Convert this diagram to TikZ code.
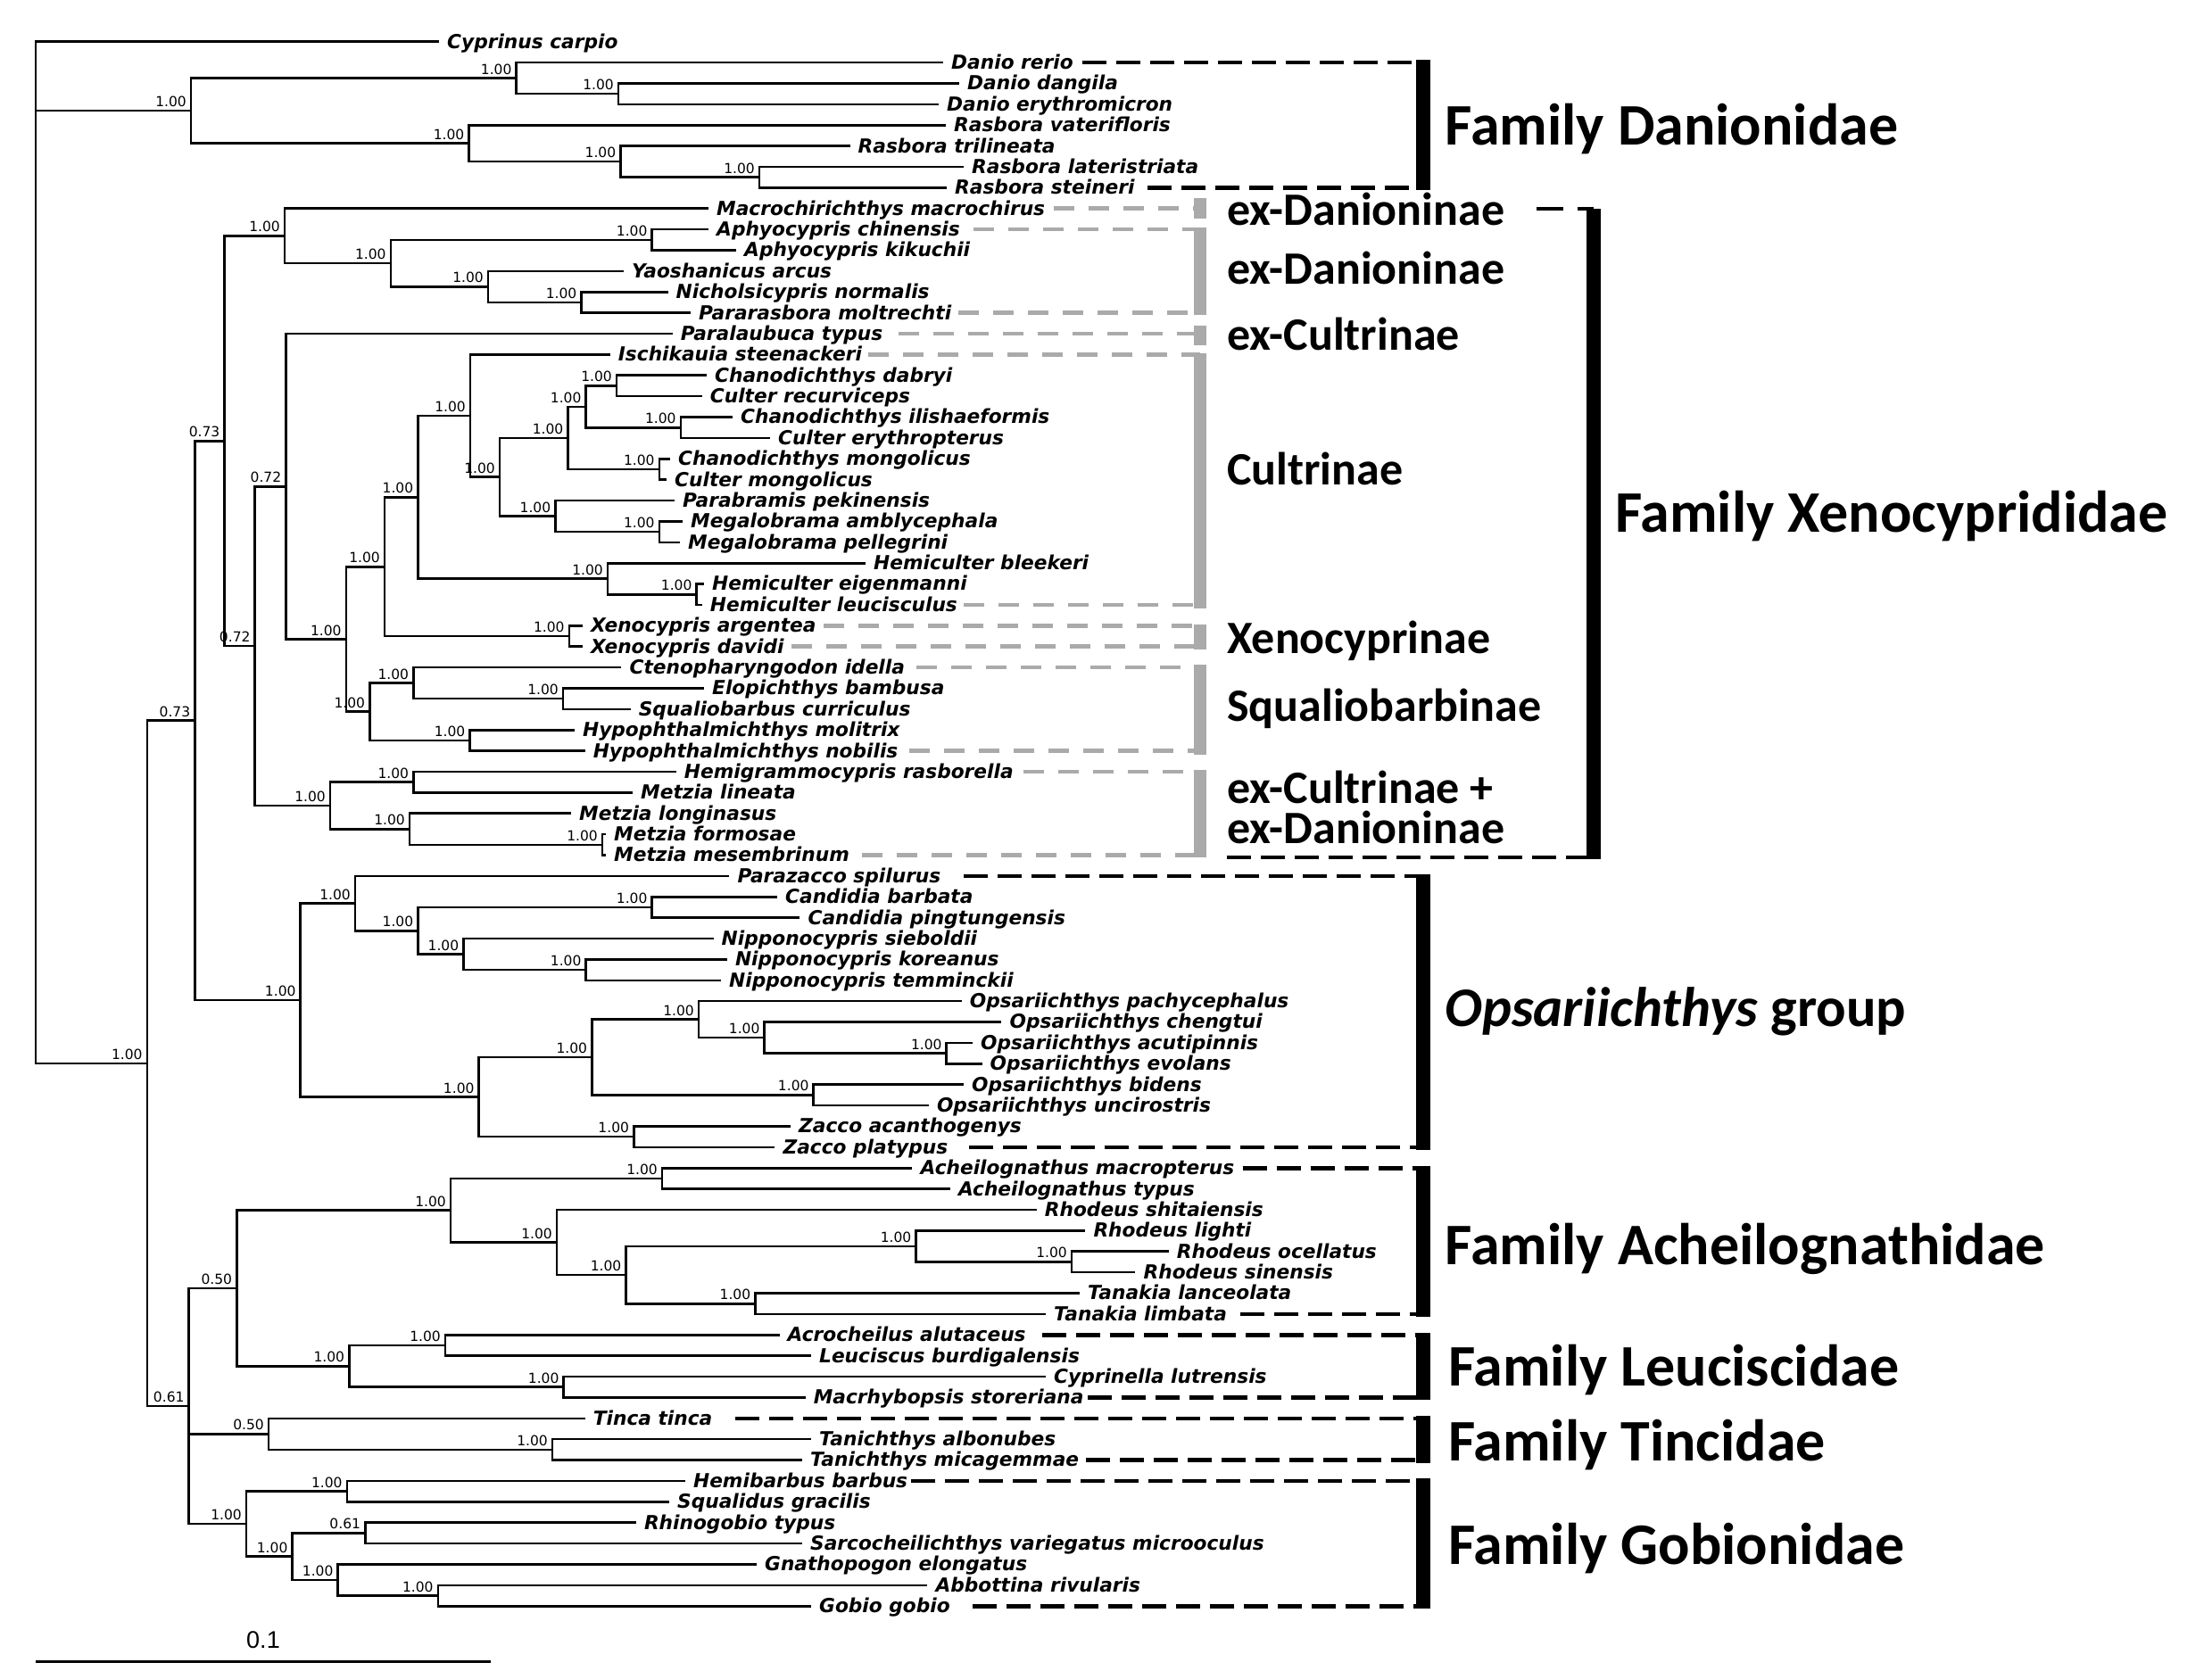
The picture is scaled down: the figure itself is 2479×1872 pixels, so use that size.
\documentclass[tikz,border=0pt]{standalone}
\usepackage{fontspec}
\setmainfont{DejaVu Sans}
\newfontfamily\carl{Carlito}
\newfontfamily\libs{Liberation Sans}
\usetikzlibrary{calc}
\definecolor{gb}{RGB}{170,170,170}
\newcommand\LY[1]{46.7+23.38*(#1)}
\newcommand\tleaf[3]{\coordinate (c#1) at (#2,{\LY{#1}}); \node[sp] (l#1) at (c#1) {#3};}
\newcommand\innode[3]{\coordinate (#1) at (#2,{\LY{#3}});}
\newcommand\bsv[2]{\node[bs] (b#1) at ([xshift=-5pt,yshift=4.5pt]#1) {#2};}
\begin{document}
\begin{tikzpicture}[x=1pt,y=-1pt,
 br/.style={line width=2.6pt},
 sp/.style={anchor=base west, inner sep=0pt, xshift=9pt, yshift=-7.4pt, font=\fontsize{21.7}{24}\selectfont\bfseries\itshape},
 bs/.style={anchor=base east, inner sep=0pt, font=\fontsize{15.5}{17}\selectfont},
 kdash/.style={line width=4.6pt, dash pattern=on 27pt off 11pt},
 gdash/.style={gb, line width=4.5pt, dash pattern=on 23pt off 16pt},
 kbar/.style={line width=16.5pt},
 gbar/.style={gb, line width=14pt},
 sub/.style={anchor=base west, inner sep=0pt, font=\carl\fontsize{52}{56}\selectfont\bfseries},
 fam/.style={anchor=base west, inner sep=0pt, font=\carl\fontsize{66}{70}\selectfont\bfseries}]
\useasboundingbox[fill=white] (0,0) rectangle (2479,1872);

% ---------- leaves ----------
\tleaf{0}{492}{Cyprinus carpio}
\tleaf{1}{1057}{Danio rerio}
\tleaf{2}{1075}{Danio dangila}
\tleaf{3}{1052}{Danio erythromicron}
\tleaf{4}{1060}{Rasbora vaterifloris}
\tleaf{5}{952.5}{Rasbora trilineata}
\tleaf{6}{1080}{Rasbora lateristriata}
\tleaf{7}{1061}{Rasbora steineri}
\tleaf{8}{794}{Macrochirichthys macrochirus}
\tleaf{9}{794}{Aphyocypris chinensis}
\tleaf{10}{825}{Aphyocypris kikuchii}
\tleaf{11}{699}{Yaoshanicus arcus}
\tleaf{12}{748.5}{Nicholsicypris normalis}
\tleaf{13}{774}{Pararasbora moltrechti}
\tleaf{14}{753.6}{Paralaubuca typus}
\tleaf{15}{683.7}{Ischikauia steenackeri}
\tleaf{16}{792}{Chanodichthys dabryi}
\tleaf{17}{786.7}{Culter recurviceps}
\tleaf{18}{821}{Chanodichthys ilishaeformis}
\tleaf{19}{863}{Culter erythropterus}
\tleaf{20}{751}{Chanodichthys mongolicus}
\tleaf{21}{747}{Culter mongolicus}
\tleaf{22}{756}{Parabramis pekinensis}
\tleaf{23}{765}{Megalobrama amblycephala}
\tleaf{24}{762}{Megalobrama pellegrini}
\tleaf{25}{970}{Hemiculter bleekeri}
\tleaf{26}{789}{Hemiculter eigenmanni}
\tleaf{27}{786.7}{Hemiculter leucisculus}
\tleaf{28}{653}{Xenocypris argentea}
\tleaf{29}{653}{Xenocypris davidi}
\tleaf{30}{696.4}{Ctenopharyngodon idella}
\tleaf{31}{789}{Elopichthys bambusa}
\tleaf{32}{706.6}{Squaliobarbus curriculus}
\tleaf{33}{643.9}{Hypophthalmichthys molitrix}
\tleaf{34}{655.6}{Hypophthalmichthys nobilis}
\tleaf{35}{757.7}{Hemigrammocypris rasborella}
\tleaf{36}{709}{Metzia lineata}
\tleaf{37}{640}{Metzia longinasus}
\tleaf{38}{679}{Metzia formosae}
\tleaf{39}{679}{Metzia mesembrinum}
\tleaf{40}{817.3}{Parazacco spilurus}
\tleaf{41}{871}{Candidia barbata}
\tleaf{42}{896.4}{Candidia pingtungensis}
\tleaf{43}{799.5}{Nipponocypris sieboldii}
\tleaf{44}{814.8}{Nipponocypris koreanus}
\tleaf{45}{808}{Nipponocypris temminckii}
\tleaf{46}{1077.6}{Opsariichthys pachycephalus}
\tleaf{47}{1122.4}{Opsariichthys chengtui}
\tleaf{48}{1090}{Opsariichthys acutipinnis}
\tleaf{49}{1100.5}{Opsariichthys evolans}
\tleaf{50}{1080}{Opsariichthys bidens}
\tleaf{51}{1040.8}{Opsariichthys uncirostris}
\tleaf{52}{886}{Zacco acanthogenys}
\tleaf{53}{868.4}{Zacco platypus}
\tleaf{54}{1022.4}{Acheilognathus macropterus}
\tleaf{55}{1064.8}{Acheilognathus typus}
\tleaf{56}{1161.7}{Rhodeus shitaiensis}
\tleaf{57}{1216.3}{Rhodeus lighti}
\tleaf{58}{1309.7}{Rhodeus ocellatus}
\tleaf{59}{1272.4}{Rhodeus sinensis}
\tleaf{60}{1210}{Tanakia lanceolata}
\tleaf{61}{1172}{Tanakia limbata}
\tleaf{62}{873.5}{Acrocheilus alutaceus}
\tleaf{63}{909}{Leuciscus burdigalensis}
\tleaf{64}{1172}{Cyprinella lutrensis}
\tleaf{65}{902.6}{Macrhybopsis storeriana}
\tleaf{66}{655.6}{Tinca tinca}
\tleaf{67}{909}{Tanichthys albonubes}
\tleaf{68}{899}{Tanichthys micagemmae}
\tleaf{69}{767.9}{Hemibarbus barbus}
\tleaf{70}{750}{Squalidus gracilis}
\tleaf{71}{712.8}{Rhinogobio typus}
\tleaf{72}{899}{Sarcocheilichthys variegatus microoculus}
\tleaf{73}{848}{Gnathopogon elongatus}
\tleaf{74}{1039.3}{Abbottina rivularis}
\tleaf{75}{909}{Gobio gobio}

% ---------- internal nodes ----------
\innode{R}{40}{24.49}
\innode{D0}{214}{3.3125}
\innode{Dd}{578.6}{1.75}
\innode{Dd2}{693}{2.5}
\innode{Ra}{525.5}{4.875}
\innode{Ra2}{695.4}{5.75}
\innode{Ra3}{851}{6.5}
\innode{B}{164.8}{48.9812}
\innode{C1}{218.4}{32.5483}
\innode{C2}{251.5}{19.14355}
\innode{E1}{319}{9.3125}
\innode{E2}{437.8}{10.625}
\innode{Ap}{730.6}{9.5}
\innode{E3}{547}{11.75}
\innode{E4}{651.5}{12.5}
\innode{C3}{285.7}{28.97461}
\innode{C4}{320.4}{21.32422}
\innode{C5}{387.8}{28.64844}
\innode{C6}{431}{25.17188}
\innode{C7}{468.4}{21.84375}
\innode{Nisch}{527}{17.9375}
\innode{Ncult}{560}{20.875}
\innode{Na}{636.5}{19}
\innode{Nb}{656.6}{17.5}
\innode{Ndab}{691}{16.5}
\innode{Nili}{762.8}{18.5}
\innode{Nmon}{738.8}{20.5}
\innode{Npara}{622.4}{22.75}
\innode{Nmeg}{738.8}{23.5}
\innode{Hem}{681}{25.75}
\innode{Hem2}{780.6}{26.5}
\innode{Xen}{637.8}{28.5}
\innode{SQ}{414.3}{32.125}
\innode{SQ1}{463.3}{30.75}
\innode{Elo}{631}{31.5}
\innode{Hyp}{526.5}{33.5}
\innode{M0}{370}{36.625}
\innode{M1}{463.3}{35.5}
\innode{M2}{459}{37.75}
\innode{M3}{675}{38.5}
\innode{O0}{336.7}{45.953125}
\innode{O1}{398}{41.3125}
\innode{O2}{468.4}{42.625}
\innode{Cand}{730.6}{41.5}
\innode{O3}{519.4}{43.75}
\innode{O4}{656.6}{44.5}
\innode{O5}{536.7}{50.59375}
\innode{O6}{663.3}{48.6875}
\innode{O7}{783}{46.875}
\innode{O8}{856.6}{47.75}
\innode{O9}{1060.7}{48.5}
\innode{Obid}{911.7}{50.5}
\innode{Zac}{710.2}{52.5}
\innode{G}{211.7}{65.4140625}
\innode{P0}{265.3}{59.765625}
\innode{A1}{505}{56.03125}
\innode{Ach}{742}{54.5}
\innode{A2}{624}{57.5625}
\innode{A3}{701.5}{59.125}
\innode{A4}{1026.5}{57.75}
\innode{A5}{1201}{58.5}
\innode{A6}{846.4}{60.5}
\innode{L0}{391.3}{63.5}
\innode{L1}{499}{62.5}
\innode{L2}{631.6}{64.5}
\innode{T0}{301}{66.75}
\innode{T1}{619}{67.5}
\innode{Gob}{276}{71.0625}
\innode{Gb1}{388.8}{69.5}
\innode{Gb2}{327.6}{72.625}
\innode{Gb3}{409.2}{71.5}
\innode{Gb4}{378.6}{73.75}
\innode{Gb5}{490.8}{74.5}

% ---------- branches ----------
\draw[br] (R) |- (c0) (R) |- (D0) (R) |- (B);
\draw[br] (D0) |- (Dd) (D0) |- (Ra);
\draw[br] (Dd) |- (c1) (Dd) |- (Dd2);
\draw[br] (Dd2) |- (c2) (Dd2) |- (c3);
\draw[br] (Ra) |- (c4) (Ra) |- (Ra2);
\draw[br] (Ra2) |- (c5) (Ra2) |- (Ra3);
\draw[br] (Ra3) |- (c6) (Ra3) |- (c7);
\draw[br] (B) |- (C1) (B) |- (G);
\draw[br] (C1) |- (C2) (C1) |- (O0);
\draw[br] (C2) |- (E1) (C2) |- (C3);
\draw[br] (E1) |- (c8) (E1) |- (E2);
\draw[br] (E2) |- (Ap) (E2) |- (E3);
\draw[br] (Ap) |- (c9) (Ap) |- (c10);
\draw[br] (E3) |- (c11) (E3) |- (E4);
\draw[br] (E4) |- (c12) (E4) |- (c13);
\draw[br] (C3) |- (C4) (C3) |- (M0);
\draw[br] (C4) |- (c14) (C4) |- (C5);
\draw[br] (C5) |- (C6) (C5) |- (SQ);
\draw[br] (C6) |- (C7) (C6) |- (Xen);
\draw[br] (C7) |- (Nisch) (C7) |- (Hem);
\draw[br] (Nisch) |- (c15) (Nisch) |- (Ncult);
\draw[br] (Ncult) |- (Na) (Ncult) |- (Npara);
\draw[br] (Na) |- (Nb) (Na) |- (Nmon);
\draw[br] (Nb) |- (Ndab) (Nb) |- (Nili);
\draw[br] (Ndab) |- (c16) (Ndab) |- (c17);
\draw[br] (Nili) |- (c18) (Nili) |- (c19);
\draw[br] (Nmon) |- (c20) (Nmon) |- (c21);
\draw[br] (Npara) |- (c22) (Npara) |- (Nmeg);
\draw[br] (Nmeg) |- (c23) (Nmeg) |- (c24);
\draw[br] (Hem) |- (c25) (Hem) |- (Hem2);
\draw[br] (Hem2) |- (c26) (Hem2) |- (c27);
\draw[br] (Xen) |- (c28) (Xen) |- (c29);
\draw[br] (SQ) |- (SQ1) (SQ) |- (Hyp);
\draw[br] (SQ1) |- (c30) (SQ1) |- (Elo);
\draw[br] (Elo) |- (c31) (Elo) |- (c32);
\draw[br] (Hyp) |- (c33) (Hyp) |- (c34);
\draw[br] (M0) |- (M1) (M0) |- (M2);
\draw[br] (M1) |- (c35) (M1) |- (c36);
\draw[br] (M2) |- (c37) (M2) |- (M3);
\draw[br] (M3) |- (c38) (M3) |- (c39);
\draw[br] (O0) |- (O1) (O0) |- (O5);
\draw[br] (O1) |- (c40) (O1) |- (O2);
\draw[br] (O2) |- (Cand) (O2) |- (O3);
\draw[br] (Cand) |- (c41) (Cand) |- (c42);
\draw[br] (O3) |- (c43) (O3) |- (O4);
\draw[br] (O4) |- (c44) (O4) |- (c45);
\draw[br] (O5) |- (O6) (O5) |- (Zac);
\draw[br] (O6) |- (O7) (O6) |- (Obid);
\draw[br] (O7) |- (c46) (O7) |- (O8);
\draw[br] (O8) |- (c47) (O8) |- (O9);
\draw[br] (O9) |- (c48) (O9) |- (c49);
\draw[br] (Obid) |- (c50) (Obid) |- (c51);
\draw[br] (Zac) |- (c52) (Zac) |- (c53);
\draw[br] (G) |- (P0) (G) |- (T0) (G) |- (Gob);
\draw[br] (P0) |- (A1) (P0) |- (L0);
\draw[br] (A1) |- (Ach) (A1) |- (A2);
\draw[br] (Ach) |- (c54) (Ach) |- (c55);
\draw[br] (A2) |- (c56) (A2) |- (A3);
\draw[br] (A3) |- (A4) (A3) |- (A6);
\draw[br] (A4) |- (c57) (A4) |- (A5);
\draw[br] (A5) |- (c58) (A5) |- (c59);
\draw[br] (A6) |- (c60) (A6) |- (c61);
\draw[br] (L0) |- (L1) (L0) |- (L2);
\draw[br] (L1) |- (c62) (L1) |- (c63);
\draw[br] (L2) |- (c64) (L2) |- (c65);
\draw[br] (T0) |- (c66) (T0) |- (T1);
\draw[br] (T1) |- (c67) (T1) |- (c68);
\draw[br] (Gob) |- (Gb1) (Gob) |- (Gb2);
\draw[br] (Gb1) |- (c69) (Gb1) |- (c70);
\draw[br] (Gb2) |- (Gb3) (Gb2) |- (Gb4);
\draw[br] (Gb3) |- (c71) (Gb3) |- (c72);
\draw[br] (Gb4) |- (c73) (Gb4) |- (Gb5);
\draw[br] (Gb5) |- (c74) (Gb5) |- (c75);

% ---------- support values ----------
\bsv{D0}{1.00}\bsv{Dd}{1.00}\bsv{Dd2}{1.00}\bsv{Ra}{1.00}\bsv{Ra2}{1.00}\bsv{Ra3}{1.00}
\bsv{B}{1.00}\bsv{C1}{0.73}\bsv{C2}{0.73}\bsv{E1}{1.00}\bsv{E2}{1.00}\bsv{Ap}{1.00}
\bsv{E3}{1.00}\bsv{E4}{1.00}\bsv{C3}{0.72}\bsv{C4}{0.72}\bsv{C5}{1.00}\bsv{C6}{1.00}
\bsv{C7}{1.00}\bsv{Nisch}{1.00}\bsv{Ncult}{1.00}\bsv{Na}{1.00}\bsv{Nb}{1.00}\bsv{Ndab}{1.00}
\bsv{Nili}{1.00}\bsv{Nmon}{1.00}\bsv{Npara}{1.00}\bsv{Nmeg}{1.00}\bsv{Hem}{1.00}\bsv{Hem2}{1.00}
\bsv{Xen}{1.00}\bsv{SQ}{1.00}\bsv{SQ1}{1.00}\bsv{Elo}{1.00}\bsv{Hyp}{1.00}
\bsv{M0}{1.00}\bsv{M1}{1.00}\bsv{M2}{1.00}\bsv{M3}{1.00}
\bsv{O0}{1.00}\bsv{O1}{1.00}\bsv{O2}{1.00}\bsv{Cand}{1.00}\bsv{O3}{1.00}\bsv{O4}{1.00}
\bsv{O5}{1.00}\bsv{O6}{1.00}\bsv{O7}{1.00}\bsv{O8}{1.00}\bsv{O9}{1.00}\bsv{Obid}{1.00}\bsv{Zac}{1.00}
\bsv{G}{0.61}\bsv{P0}{0.50}\bsv{A1}{1.00}\bsv{Ach}{1.00}\bsv{A2}{1.00}\bsv{A3}{1.00}
\bsv{A4}{1.00}\bsv{A5}{1.00}\bsv{A6}{1.00}\bsv{L0}{1.00}\bsv{L1}{1.00}\bsv{L2}{1.00}
\bsv{T0}{0.50}\bsv{T1}{1.00}\bsv{Gob}{1.00}\bsv{Gb1}{1.00}\bsv{Gb2}{1.00}\bsv{Gb3}{0.61}
\bsv{Gb4}{1.00}\bsv{Gb5}{1.00}

% ---------- subgroup labels ----------
\node[sub] (s1) at (1375,252) {ex-Danioninae};
\node[sub] (s2) at (1375,318.9) {ex-Danioninae};
\node[sub] (s3) at (1375,392.2) {ex-Cultrinae};
\node[sub] (s4) at (1375,543.4) {Cultrinae};
\node[sub] (s5) at (1375,732.1) {Xenocyprinae};
\node[sub] (s6) at (1375,808.7) {Squaliobarbinae};
\node[sub] (s7a) at (1375,900.5) {ex-Cultrinae +};
\node[sub] (s7b) at (1375,945.2) {ex-Danioninae};

% ---------- family labels ----------
\node[fam] (f1) at (1619.5,162.6) {Family Danionidae};
\node[fam] (f2) at (1809.8,596.3) {Family Xenocyprididae};
\node[fam, font=\carl\fontsize{62.5}{68}\selectfont\bfseries] (f3) at (1619.5,1150) {\itshape Opsariichthys\upshape{} group};
\node[fam] (f4) at (1619.5,1417.6) {Family Acheilognathidae};
\node[fam] (f5) at (1623,1553) {Family Leuciscidae};
\node[fam] (f6) at (1623,1637) {Family Tincidae};
\node[fam] (f7) at (1623,1753) {Family Gobionidae};

% ---------- bar end points ----------
\coordinate (gb1t) at (1345,222); \coordinate (gb1b) at (1345,245);
\coordinate (gb2t) at (1345,255); \coordinate (gb2b) at (1345,353);
\coordinate (gb3t) at (1345,365); \coordinate (gb3b) at (1345,387);
\coordinate (gb4t) at (1345,396); \coordinate (gb4b) at (1345,682);
\coordinate (gb5t) at (1345,699.5); \coordinate (gb5b) at (1345,728);
\coordinate (gb6t) at (1345,745); \coordinate (gb6b) at (1345,846);
\coordinate (gb7t) at (1345,863); \coordinate (gb7b) at (1345,961);
\coordinate (kb1t) at (1595,67); \coordinate (kb1b) at (1595,213);
\coordinate (kb2t) at (1786,234); \coordinate (kb2b) at (1786,963);
\coordinate (kb3t) at (1595,979.5); \coordinate (kb3b) at (1595,1289);
\coordinate (kb4t) at (1595,1307); \coordinate (kb4b) at (1595,1476);
\coordinate (kb5t) at (1595,1494); \coordinate (kb5b) at (1595,1569);
\coordinate (kb6t) at (1595,1587); \coordinate (kb6b) at (1595,1640);
\coordinate (kb7t) at (1595,1657); \coordinate (kb7b) at (1595,1803);
\coordinate (xb) at (1786,961);

% ---------- gray dashed connectors ----------
\draw[gdash, shorten <=10pt] (c8 -| l8.east) -- (c8 -| gb1t);
\draw[gdash, shorten <=15pt] (c9 -| l9.east) -- (c9 -| gb2t);
\draw[gdash, shorten <=8pt] (c13 -| l13.east) -- (c13 -| gb2t);
\draw[gdash, shorten <=17pt] (c14 -| l14.east) -- (c14 -| gb3t);
\draw[gdash, shorten <=7pt] (c15 -| l15.east) -- (c15 -| gb4t);
\draw[gdash, shorten <=7pt] (c27 -| l27.east) -- (c27 -| gb4t);
\draw[gdash, shorten <=8pt] (c28 -| l28.east) -- (c28 -| gb5t);
\draw[gdash, shorten <=8pt] (c29 -| l29.east) -- (c29 -| gb5t);
\draw[gdash, shorten <=13pt] (c30 -| l30.east) -- (c30 -| gb6t);
\draw[gdash, shorten <=12pt] (c34 -| l34.east) -- (c34 -| gb6t);
\draw[gdash, shorten <=11pt] (c35 -| l35.east) -- (c35 -| gb7t);
\draw[gdash, shorten <=14pt] (c39 -| l39.east) -- (c39 -| gb7t);

% ---------- black dashed connectors ----------
\draw[kdash, shorten <=10pt] (c1 -| l1.east) -- (c1 -| kb1t);
\draw[kdash, shorten <=14pt] (c7 -| l7.east) -- (c7 -| kb1t);
\draw[kdash, shorten <=36pt, dash pattern=on 30pt off 16pt] (kb2t -| s1.east) -- (kb2t);
\draw[kdash] (xb -| s7b.west) -- (xb);
\draw[kdash, shorten <=25pt] (c40 -| l40.east) -- (c40 -| kb3t);
\draw[kdash, shorten <=24pt] (c53 -| l53.east) -- (c53 -| kb3t);
\draw[kdash, shorten <=9pt] (c54 -| l54.east) -- (c54 -| kb4t);
\draw[kdash, shorten <=15pt] (c61 -| l61.east) -- (c61 -| kb4t);
\draw[kdash, shorten <=18pt] (c62 -| l62.east) -- (c62 -| kb5t);
\draw[kdash, shorten <=4pt] (c65 -| l65.east) -- (c65 -| kb5t);
\draw[kdash, shorten <=25pt] (c66 -| l66.east) -- (c66 -| kb6t);
\draw[kdash, shorten <=8pt] (c68 -| l68.east) -- (c68 -| kb6t);
\draw[kdash, shorten <=4pt] (c69 -| l69.east) -- (c69 -| kb7t);
\draw[kdash, shorten <=25pt] (c75 -| l75.east) -- (c75 -| kb7t);

% ---------- bars ----------
\draw[gbar] (gb1t) -- (gb1b);
\draw[gbar] (gb2t) -- (gb2b);
\draw[gbar] (gb3t) -- (gb3b);
\draw[gbar] (gb4t) -- (gb4b);
\draw[gbar] (gb5t) -- (gb5b);
\draw[gbar] (gb6t) -- (gb6b);
\draw[gbar] (gb7t) -- (gb7b);
\draw[kbar] (kb1t) -- (kb1b);
\draw[kbar] (kb2t) -- (kb2b);
\draw[kbar] (kb3t) -- (kb3b);
\draw[kbar] (kb4t) -- (kb4b);
\draw[kbar] (kb5t) -- (kb5b);
\draw[kbar] (kb6t) -- (kb6b);
\draw[kbar] (kb7t) -- (kb7b);

% ---------- scale bar ----------
\coordinate (sb1) at (40,1862);
\coordinate (sb2) at (550,1862);
\draw[line width=3pt] (sb1) -- (sb2);
\node[anchor=base, inner sep=0pt, font=\libs\fontsize{27}{30}\selectfont] (sbl) at (295,1847) {0.1};
\end{tikzpicture}
\end{document}
